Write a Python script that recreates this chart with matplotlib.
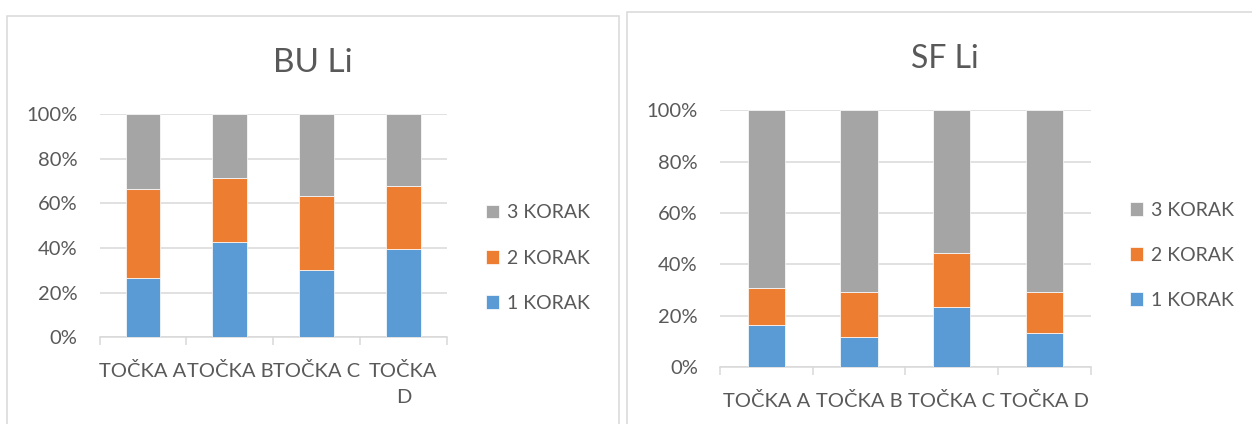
import matplotlib
matplotlib.use("Agg")
import matplotlib.pyplot as plt
from matplotlib.patches import Rectangle
from matplotlib.ticker import PercentFormatter, FixedLocator

plt.rcParams['font.family'] = ['Lato', 'DejaVu Sans']

categories = ["TOČKA A", "TOČKA B", "TOČKA C", "TOČKA D"]
steps = ["1 KORAK", "2 KORAK", "3 KORAK"]

# share of each step per point (%)
bu_step1 = [26.7, 42.5, 30.0, 39.4]
bu_step2 = [39.6, 28.7, 33.4, 28.5]
bu_step3 = [33.7, 28.8, 36.6, 32.1]

sf_step1 = [16.5, 11.7, 23.4, 13.4]
sf_step2 = [14.4, 17.4, 20.9, 15.7]
sf_step3 = [69.1, 70.9, 55.7, 70.9]

colors = ['#5B9BD5', '#ED7D31', '#A5A5A5']
text_col = '#595959'
grid_col = '#D9D9D9'

W, H = 1252, 424
fig = plt.figure(figsize=(W / 100, H / 100), dpi=100)


def px(x0, y0, x1, y1):
    # pixel box -> figure fraction
    return [x0 / W, 1 - y1 / H, (x1 - x0) / W, (y1 - y0) / H]


def stacked(ax, series, labels, fs):
    bottom = [0] * len(labels)
    bars = []
    for vals, c, name in zip(series, colors, steps):
        b = ax.bar(range(len(labels)), vals, width=0.4, bottom=bottom, color=c,
                   edgecolor='white', linewidth=0.5, label=name, zorder=3)
        bars.append(b)
        bottom = [s + v for s, v in zip(bottom, vals)]
    ax.set_xlim(-0.5, len(labels) - 0.5)
    ax.set_ylim(0, 100)
    ax.set_yticks([0, 20, 40, 60, 80, 100])
    ax.yaxis.set_major_formatter(PercentFormatter(decimals=0))
    ax.set_xticks(range(len(labels)))
    ax.set_xticklabels(labels)
    ax.xaxis.set_minor_locator(FixedLocator([i - 0.5 for i in range(len(labels) + 1)]))
    ax.tick_params(axis='x', which='major', length=0, pad=18, labelsize=fs, labelcolor=text_col)
    ax.tick_params(axis='x', which='minor', length=6, width=1.1, color=grid_col, direction='out')
    ax.tick_params(axis='y', length=0, pad=16, labelsize=fs, labelcolor=text_col)
    for s in ['top', 'right', 'left']:
        ax.spines[s].set_visible(False)
    ax.spines['bottom'].set_color(grid_col)
    ax.spines['bottom'].set_linewidth(1.1)
    ax.grid(axis='y', color=grid_col, linewidth=1.1, zorder=0)
    ax.set_axisbelow(True)
    return bars


# left chart
ax1 = fig.add_axes(px(99.7, 114, 446.7, 337.3))
bu_labels = categories[:3] + [categories[3].replace(" ", "\n")]
bars1 = stacked(ax1, [bu_step1, bu_step2, bu_step3], bu_labels, 14.5)
for lbl in ax1.get_xticklabels():
    lbl.set_multialignment('center')
    lbl.set_linespacing(1.6)
fig.text(313 / W, 1 - 72.3 / H, "BU Li", ha='center', va='baseline', fontsize=24, color=text_col)
fig.legend(handles=bars1[::-1], loc='center left', bbox_to_anchor=(486 / W, 1 - 258 / H),
           frameon=False, fontsize=14, labelcolor=text_col, handlelength=0.65, handleheight=0.7,
           handletextpad=0.45, labelspacing=1.45, borderpad=0, borderaxespad=0)

# right chart
ax2 = fig.add_axes(px(720, 110.3, 1090.6, 367))
bars2 = stacked(ax2, [sf_step1, sf_step2, sf_step3], categories, 14.5)
fig.text(945 / W, 1 - 67.7 / H, "SF Li", ha='center', va='baseline', fontsize=23, color=text_col)
fig.legend(handles=bars2[::-1], loc='center left', bbox_to_anchor=(1130 / W, 1 - 255.3 / H),
           frameon=False, fontsize=14, labelcolor=text_col, handlelength=0.65, handleheight=0.7,
           handletextpad=0.45, labelspacing=1.45, borderpad=0, borderaxespad=0)

# chart area borders
fig.add_artist(Rectangle((6.7 / W, -0.1), (619.3 - 6.7) / W, 1.1 - 15.6 / H,
                         transform=fig.transFigure, fill=False, edgecolor=grid_col, linewidth=1.1))
fig.add_artist(Rectangle((626.7 / W, -0.1), 0.6, 1.1 - 11.7 / H,
                         transform=fig.transFigure, fill=False, edgecolor=grid_col, linewidth=1.1))

fig.savefig("out.png", dpi=100)
